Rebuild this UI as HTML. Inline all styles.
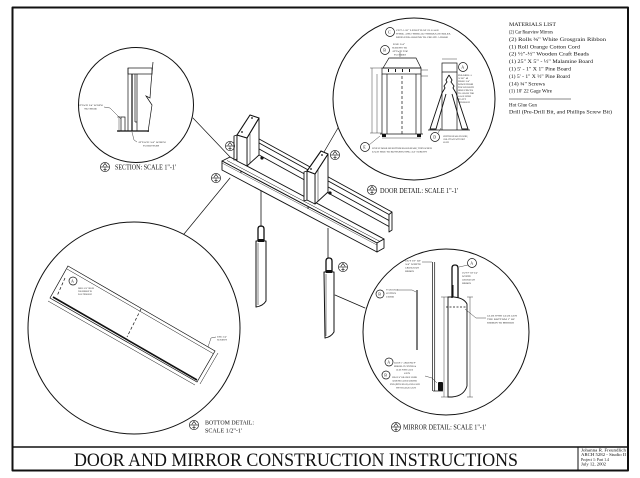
<!DOCTYPE html>
<html><head><meta charset="utf-8">
<style>
html,body{margin:0;padding:0;background:#fff;}
svg{display:block;}
text{font-family:"Liberation Serif",serif;fill:#111;}
.t{font-size:2.5px;fill:#222;}
</style></head><body>
<svg width="640" height="478" viewBox="0 0 640 478" xmlns="http://www.w3.org/2000/svg">
<defs>
<g id="sym" fill="none" stroke="#111" stroke-width="0.6"><circle r="4.6"/><line x1="-4.6" y1="0" x2="4.6" y2="0"/><path d="M-2.2,-0.6 L0,-3.6 L2.2,-0.6"/><line x1="0" y1="0.5" x2="0" y2="4"/><line x1="-1.6" y1="2.4" x2="1.6" y2="2.4"/></g>
</defs>
<rect width="640" height="478" fill="#fff"/>

<g fill="none" stroke="#111" stroke-linejoin="round" stroke-linecap="round">
 <rect x="12.5" y="7.5" width="615.5" height="463" stroke-width="2"/>
 <line x1="12.5" y1="447" x2="628" y2="447" stroke-width="1.6"/>
 <line x1="578" y1="447" x2="578" y2="470" stroke-width="1"/>
 <circle cx="136" cy="105" r="57.5" stroke-width="1"/>
 <circle cx="414" cy="99" r="81" stroke-width="1"/>
 <circle cx="134" cy="328" r="106" stroke-width="1"/>
 <circle cx="446" cy="332" r="83" stroke-width="1"/>
 <line x1="193" y1="118" x2="231" y2="158" stroke-width="0.7"/>
 <line x1="184" y1="234" x2="230" y2="178" stroke-width="0.7"/>
 <line x1="338" y1="128" x2="324" y2="152" stroke-width="0.7"/>
 <line x1="335" y1="295" x2="365" y2="308" stroke-width="0.7"/>
</g>

<!-- ASSEMBLY -->
<g fill="none" stroke="#111" stroke-width="0.9" stroke-linejoin="round">
 <!-- back rail -->
 <line x1="258" y1="138.4" x2="392" y2="212"/>
 <line x1="258" y1="142.4" x2="389" y2="214.5"/>
 <line x1="258" y1="148.4" x2="389" y2="220.5"/>
 <line x1="258" y1="154.4" x2="389" y2="226.5"/>
 <path d="M392,212 L392,230 L389,232 L389,214.5 Z" fill="#fff"/>
 <!-- front rail -->
 <polygon points="222,161 230,157 384,239 377,243" fill="#fff"/>
 <polygon points="222,161 377,243 377,252 222,170" fill="#fff"/>
 <polygon points="377,243 384,239 384,248 377,252" fill="#fff"/>
 <line x1="227" y1="160.5" x2="380" y2="241.5" stroke-width="0.5"/>
 <line x1="222" y1="163" x2="377" y2="245" stroke-width="0.4"/>
 <!-- left post -->
 <polygon points="234,136 237,135 237,159 234,160" fill="#fff"/>
 <polygon points="247,138 259,118 259,155 247,166" fill="#fff"/>
 <polygon points="237,135 247,138 247,166 237,161" fill="#fff"/>
 <polygon points="237,135 250,115 259,118 247,138" fill="#fff" stroke-width="1.1"/>
 <line x1="250" y1="134" x2="250" y2="163" stroke-width="0.5"/>
 <!-- right post -->
 <polygon points="304,172 307,171 307,200 304,201" fill="#fff"/>
 <polygon points="315,174 328,154 328,192 315,204" fill="#fff"/>
 <polygon points="307,171 315,174 315,204 307,200" fill="#fff"/>
 <polygon points="307,171 321,151 328,154 315,174" fill="#fff" stroke-width="1.1"/>
 <line x1="318" y1="170" x2="318" y2="201" stroke-width="0.5"/>
 <!-- wires -->
 <line x1="261" y1="191" x2="261" y2="227" stroke-width="0.8"/>
 <line x1="328" y1="228" x2="328" y2="258" stroke-width="0.8"/>
 <!-- left mirror -->
 <path d="M258,242 L258,229 Q258,226 261,226 Q264,226 264,229 L264,242" stroke-width="1.3"/>
 <path d="M256,241 L266,241 L266,301 Q263,306 256,307 Z" fill="#fff" stroke-width="1"/>
 <line x1="258" y1="243" x2="258" y2="305" stroke-width="0.5"/>
 <!-- right mirror -->
 <path d="M326,273 L326,261 Q326,258 329,258 Q332,258 332,261 L332,273" stroke-width="1.3"/>
 <path d="M324,272 L334,272 L334,332 Q331,337 325,338 Z" fill="#fff" stroke-width="1"/>
 <line x1="326" y1="274" x2="326" y2="336" stroke-width="0.5"/>
</g>
<g fill="#111">
 <circle cx="242" cy="132" r="0.9"/><circle cx="252" cy="118" r="0.9"/>
 <circle cx="311" cy="169" r="0.9"/><circle cx="322" cy="155" r="0.9"/>
 <circle cx="262" cy="158" r="1.6"/><circle cx="330" cy="193" r="1.6"/>
 <circle cx="241" cy="172" r="0.7"/><circle cx="308" cy="208" r="0.7"/>
 <rect x="258" y="239" width="6" height="3"/>
 <rect x="326" y="270" width="6" height="3"/>
</g>

<!-- symbols -->
<use href="#sym" x="230" y="146"/>
<use href="#sym" x="216" y="178"/>
<use href="#sym" x="335" y="155"/>
<use href="#sym" x="343" y="267"/>
<use href="#sym" x="105" y="167"/>
<use href="#sym" x="372" y="190"/>
<use href="#sym" x="194" y="425"/>
<use href="#sym" x="396" y="427"/>

<!-- SECTION DETAIL -->
<g fill="none" stroke="#111" stroke-width="0.7">
 <rect x="128" y="68" width="24" height="6"/>
 <line x1="128" y1="68" x2="128" y2="131"/>
 <line x1="132" y1="74" x2="132" y2="131" stroke-width="1.2"/>
 <line x1="135" y1="74" x2="135" y2="122"/>
 <line x1="137" y1="74" x2="137" y2="131"/>
 <line x1="135" y1="122" x2="137" y2="122"/>
 <line x1="117" y1="131" x2="149" y2="131" stroke-width="1.3"/>
 <rect x="121" y="117" width="4" height="14"/>
 <line x1="119" y1="116" x2="119" y2="132" stroke-width="0.4"/>
 <line x1="117" y1="117" x2="121" y2="117" stroke-width="0.4"/>
 <path d="M153,62 L151,84 L150,98 L146,96 L152,105 L148,132"/>
 <path d="M104,107 L110,108 L121,119" stroke-width="0.4"/>
 <path d="M132,132 L134,140 L137,142" stroke-width="0.4"/>
</g>
<text class="t" x="78" y="106" textLength="25" lengthAdjust="spacingAndGlyphs">ATTACH 3/4" SCREW</text>
<text class="t" x="84" y="109.5" textLength="13" lengthAdjust="spacingAndGlyphs">TO SIDE</text>
<text class="t" x="138" y="143" textLength="28" lengthAdjust="spacingAndGlyphs">ATTACH 3/4" SCREW</text>
<text class="t" x="143" y="146.5" textLength="16" lengthAdjust="spacingAndGlyphs">TO BOTTOM</text>

<!-- BOTTOM DETAIL -->
<g fill="none" stroke="#111" stroke-width="0.7">
 <polygon points="68,266 215,351 197,382 50,298" fill="#fff"/>
 <line x1="67" y1="269" x2="213" y2="353.5" stroke-width="0.5"/>
 <line x1="53" y1="297" x2="197" y2="380" stroke-width="1.6"/>
 <line x1="48" y1="301" x2="195" y2="385" stroke-width="0.5"/>
 <line x1="218" y1="353" x2="200" y2="384" stroke-width="0.5"/>
 <line x1="141" y1="309" x2="127" y2="337" stroke-dasharray="3,2"/>
 <line x1="65" y1="278" x2="57" y2="296" stroke-dasharray="3,2"/>
 <circle cx="73" cy="281" r="4"/>
 <path d="M216,337 L211,338 L208,347" stroke-width="0.4"/>
</g>
<text x="71" y="282.5" style="font-size:4px">A</text>
<text class="t" x="78" y="289" textLength="16" lengthAdjust="spacingAndGlyphs">DRILL 3/16" HOLES</text>
<text class="t" x="78" y="292" textLength="14" lengthAdjust="spacingAndGlyphs">FOR RIBBON TO</text>
<text class="t" x="78" y="295" textLength="14" lengthAdjust="spacingAndGlyphs">PASS THROUGH</text>
<text class="t" x="217" y="337.5" textLength="10" lengthAdjust="spacingAndGlyphs">USE 3/4"</text>
<text class="t" x="217" y="340.5" textLength="10" lengthAdjust="spacingAndGlyphs">SCREWS</text>

<!-- DOOR DETAIL -->
<g fill="none" stroke="#111" stroke-width="0.7">
 <polygon points="383,68 389,58 416,58 421,68"/>
 <rect x="382" y="68" width="39" height="6"/>
 <line x1="382" y1="74" x2="382" y2="134"/>
 <line x1="387" y1="74" x2="387" y2="134"/>
 <line x1="416" y1="74" x2="416" y2="134"/>
 <line x1="421" y1="74" x2="421" y2="134"/>
 <line x1="402" y1="76" x2="402" y2="134" stroke-dasharray="3,2"/>
 <line x1="380" y1="134" x2="423" y2="134"/>
 <line x1="372" y1="68" x2="372" y2="133" stroke-width="0.4"/>
 <line x1="377" y1="74" x2="377" y2="133" stroke-width="0.4"/>
 <line x1="370" y1="68" x2="382" y2="68" stroke-width="0.4"/>
 <line x1="370" y1="133" x2="382" y2="133" stroke-width="0.4"/>
 <line x1="382" y1="138" x2="421" y2="138" stroke-width="0.4"/>
 <line x1="421" y1="70" x2="428" y2="70" stroke-width="0.4"/>
 <line x1="421" y1="76" x2="428" y2="76" stroke-width="0.4"/>
 <circle cx="390" cy="32" r="4.5"/>
 <circle cx="385" cy="50" r="4.5"/>
 <line x1="400" y1="52" x2="400" y2="57" stroke-width="0.4"/>
 <!-- side view -->
 <rect x="442" y="63" width="15" height="9"/>
 <line x1="442" y1="59" x2="457" y2="59" stroke-width="0.4"/>
 <line x1="442" y1="72" x2="442" y2="130"/>
 <line x1="457" y1="72" x2="457" y2="130"/>
 <path d="M449,75 L446,80 L447,82 L444,86 L445,88 L442,93 L430,129 L436,129 L446,94" stroke-width="0.9"/>
 <path d="M449,75 L452,80 L451,82 L454,86 L453,88 L456,93 L468,129 L462,129 L452,94" stroke-width="0.9"/>
 <line x1="428" y1="130" x2="470" y2="130"/>
 <circle cx="463" cy="67" r="4.5"/>
 <circle cx="435" cy="137" r="4.5"/>
 <circle cx="365" cy="147" r="4.5"/>
 <line x1="438" y1="133" x2="441" y2="128" stroke-width="0.4"/>
 <line x1="369" y1="145" x2="380" y2="136" stroke-width="0.4"/>
</g>
<g fill="#111">
 <rect x="382" y="134" width="4" height="3"/><rect x="417" y="134" width="4" height="3"/>
 <rect x="388" y="69" width="1" height="3"/><rect x="395" y="69" width="1" height="3"/><rect x="402" y="69" width="1" height="3"/><rect x="409" y="69" width="1" height="3"/>
</g>
<text x="388" y="33.5" style="font-size:4px">C</text>
<text x="383.3" y="51.5" style="font-size:4px">B</text>
<text x="461.3" y="68.5" style="font-size:4px">A</text>
<text x="433.3" y="138.5" style="font-size:4px">D</text>
<text x="363.3" y="148.5" style="font-size:4px">E</text>
<text class="t" x="396" y="31" textLength="43" lengthAdjust="spacingAndGlyphs">CUT A 20" LENGTH OF 22 GAGE</text>
<text class="t" x="396" y="34.5" textLength="55" lengthAdjust="spacingAndGlyphs">WIRE, AND THREAD THROUGH HOLES,</text>
<text class="t" x="396" y="38" textLength="52" lengthAdjust="spacingAndGlyphs">BEND END AROUND TO CREATE A HOOK</text>
<text class="t" x="393" y="45" textLength="12" lengthAdjust="spacingAndGlyphs">USE 3/4"</text>
<text class="t" x="392" y="48.5" textLength="15" lengthAdjust="spacingAndGlyphs">SCREWS TO</text>
<text class="t" x="392" y="52" textLength="16" lengthAdjust="spacingAndGlyphs">ATTACH TOP</text>
<text class="t" x="394" y="55.5" textLength="12" lengthAdjust="spacingAndGlyphs">TO SIDES</text>
<text class="t" x="458" y="76" textLength="14" lengthAdjust="spacingAndGlyphs">PRE-DRILL A</text>
<text class="t" x="458" y="79" textLength="10" lengthAdjust="spacingAndGlyphs">3/16" Ø</text>
<text class="t" x="458" y="82" textLength="12" lengthAdjust="spacingAndGlyphs">HOLE 3/4"</text>
<text class="t" x="458" y="85" textLength="15" lengthAdjust="spacingAndGlyphs">DOWN FROM</text>
<text class="t" x="458" y="88" textLength="16" lengthAdjust="spacingAndGlyphs">TOP ON BOTH</text>
<text class="t" x="458" y="91" textLength="15" lengthAdjust="spacingAndGlyphs">SIDE PIECES</text>
<text class="t" x="458" y="94" textLength="16" lengthAdjust="spacingAndGlyphs">TO ALLOW FOR</text>
<text class="t" x="458" y="97" textLength="13" lengthAdjust="spacingAndGlyphs">GAGE WIRE</text>
<text class="t" x="458" y="100" textLength="8" lengthAdjust="spacingAndGlyphs">TO FIT</text>
<text class="t" x="458" y="103" textLength="12" lengthAdjust="spacingAndGlyphs">THROUGH</text>
<text class="t" x="443" y="137" textLength="25" lengthAdjust="spacingAndGlyphs">CENTER BEADS ON WIRE,</text>
<text class="t" x="443" y="140" textLength="22" lengthAdjust="spacingAndGlyphs">AND ATTACH WITH HOT</text>
<text class="t" x="443" y="143" textLength="6" lengthAdjust="spacingAndGlyphs">GLUE</text>
<text class="t" x="372" y="149" textLength="60" lengthAdjust="spacingAndGlyphs">LINE UP DOOR ON BOTTOM BOARD MARK, THEN SCREW</text>
<text class="t" x="372" y="152.5" textLength="55" lengthAdjust="spacingAndGlyphs">EACH SIDE TO BOTTOM USING 3/4" SCREWS</text>

<!-- MIRROR DETAIL -->
<g fill="none" stroke="#111" stroke-width="0.7">
 <line x1="432.5" y1="262" x2="432.5" y2="391"/>
 <line x1="434.7" y1="262" x2="434.7" y2="391"/>
 <line x1="433" y1="391" x2="443" y2="391"/>
 <path d="M422,262 L432,262" stroke-width="0.4"/>
 <line x1="417" y1="290" x2="417" y2="350" stroke-width="1.1"/>
 <path d="M397,290 L412,290 L416,292" stroke-width="0.4"/>
 <circle cx="380" cy="294" r="4"/>
 <path d="M452,298 L452,268 Q452,265 455,265 Q458,265 458,268 L458,298" stroke-width="1.3"/>
 <path d="M448,297 L454,297 Q464,298 467,304 L467,386 Q464,396 452,397 L448,397 Z" stroke-width="0.9"/>
 <line x1="444" y1="297" x2="444" y2="397" stroke-width="0.4"/>
 <line x1="470" y1="297" x2="470" y2="397" stroke-width="0.4"/>
 <line x1="441" y1="297" x2="448" y2="297" stroke-width="0.4"/>
 <line x1="441" y1="397" x2="448" y2="397" stroke-width="0.4"/>
 <line x1="467" y1="297" x2="473" y2="297" stroke-width="0.4"/>
 <line x1="467" y1="397" x2="473" y2="397" stroke-width="0.4"/>
 <line x1="446" y1="307" x2="467" y2="307" stroke-dasharray="2,1.5"/>
 <circle cx="472" cy="263" r="4.5"/>
 <path d="M468,265 L459,267" stroke-width="0.4"/>
 <path d="M465,309 L476,318 L486,318" stroke-width="0.4"/>
 <circle cx="389" cy="362" r="4"/>
 <circle cx="386" cy="375" r="4"/>
 <path d="M425,376 L432,378 L437,383" stroke-width="0.4"/>
</g>
<g fill="#111">
 <rect x="438" y="382" width="5" height="9" rx="1"/>
 <rect x="452" y="285" width="1.5" height="12"/>
</g>
<text x="378.2" y="295.5" style="font-size:4px">B</text>
<text x="470.3" y="264.5" style="font-size:4px">A</text>
<text x="387.2" y="363.5" style="font-size:4px">A</text>
<text x="384.2" y="376.5" style="font-size:4px">B</text>
<text class="t" x="405" y="261.5" textLength="16" lengthAdjust="spacingAndGlyphs">CUT 18" OF</text>
<text class="t" x="405" y="265" textLength="16" lengthAdjust="spacingAndGlyphs">3/4" WHITE</text>
<text class="t" x="405" y="268.5" textLength="14" lengthAdjust="spacingAndGlyphs">GROSGRAIN</text>
<text class="t" x="405" y="272" textLength="9" lengthAdjust="spacingAndGlyphs">RIBBON</text>
<text class="t" x="386" y="290.5" textLength="12" lengthAdjust="spacingAndGlyphs">#? ORANGE</text>
<text class="t" x="386" y="294" textLength="10" lengthAdjust="spacingAndGlyphs">COTTON</text>
<text class="t" x="386" y="297.5" textLength="8" lengthAdjust="spacingAndGlyphs">CORD</text>
<text class="t" x="462" y="273.5" textLength="16" lengthAdjust="spacingAndGlyphs">CUT 9" OF 3/4"</text>
<text class="t" x="462" y="277" textLength="9" lengthAdjust="spacingAndGlyphs">WHITE</text>
<text class="t" x="462" y="280.5" textLength="13" lengthAdjust="spacingAndGlyphs">GROSGRAIN</text>
<text class="t" x="462" y="284" textLength="9" lengthAdjust="spacingAndGlyphs">RIBBON</text>
<text class="t" x="487" y="316.5" textLength="30" lengthAdjust="spacingAndGlyphs">GLUE WITH GLUE GUN</text>
<text class="t" x="487" y="320" textLength="28" lengthAdjust="spacingAndGlyphs">THE BOTTOM 1" OF</text>
<text class="t" x="487" y="323.5" textLength="27" lengthAdjust="spacingAndGlyphs">RIBBON TO MIRROR</text>
<text class="t" x="394" y="363.5" textLength="22" lengthAdjust="spacingAndGlyphs">LOOP 5" AROUND 9"</text>
<text class="t" x="394" y="367" textLength="22" lengthAdjust="spacingAndGlyphs">RIBBON AT CENTER &amp;</text>
<text class="t" x="396" y="370.5" textLength="17" lengthAdjust="spacingAndGlyphs">GLUE WITH GLUE</text>
<text class="t" x="404" y="374" textLength="6" lengthAdjust="spacingAndGlyphs">GUN</text>
<text class="t" x="392" y="378" textLength="25" lengthAdjust="spacingAndGlyphs">WRAP 4" ORANGE CORD</text>
<text class="t" x="392" y="381.5" textLength="25" lengthAdjust="spacingAndGlyphs">AROUND GLUED LOOPED</text>
<text class="t" x="390" y="385" textLength="30" lengthAdjust="spacingAndGlyphs">END (INTO BEAD) AND GLUE</text>
<text class="t" x="396" y="388.5" textLength="20" lengthAdjust="spacingAndGlyphs">WITH GLUE GUN</text>

<!-- LABELS -->
<text x="115" y="169.5" style="font-size:7px" textLength="61" lengthAdjust="spacingAndGlyphs">SECTION: SCALE 1"-1'</text>
<text x="380" y="193" style="font-size:7px" textLength="78" lengthAdjust="spacingAndGlyphs">DOOR DETAIL: SCALE 1"-1'</text>
<text x="205" y="424.5" style="font-size:6.5px" textLength="49" lengthAdjust="spacingAndGlyphs">BOTTOM DETAIL:</text>
<text x="205" y="432.5" style="font-size:6.5px" textLength="37" lengthAdjust="spacingAndGlyphs">SCALE 1/2"-1'</text>
<text x="403" y="429.5" style="font-size:7px" textLength="83" lengthAdjust="spacingAndGlyphs">MIRROR DETAIL: SCALE 1"-1'</text>

<!-- MATERIALS LIST -->
<g style="font-size:5.2px">
<text x="509" y="26" textLength="47" lengthAdjust="spacingAndGlyphs">MATERIALS LIST</text>
<text x="509" y="33.5" textLength="44" lengthAdjust="spacingAndGlyphs">(2) Car Rearview Mirrors</text>
<text x="509" y="41" textLength="97" lengthAdjust="spacingAndGlyphs">(2) Rolls ¾" White Grosgrain Ribbon</text>
<text x="509" y="48.3" textLength="71" lengthAdjust="spacingAndGlyphs">(1) Roll Orange Cotton Cord</text>
<text x="509" y="55.7" textLength="80" lengthAdjust="spacingAndGlyphs">(2) ½"-½" Wooden Craft Beads</text>
<text x="509" y="63.2" textLength="84" lengthAdjust="spacingAndGlyphs">(1) 25" X 5" - ½" Malamine Board</text>
<text x="509" y="70.7" textLength="62" lengthAdjust="spacingAndGlyphs">(1) 5' - 1" X 1" Pine Board</text>
<text x="509" y="78.2" textLength="61" lengthAdjust="spacingAndGlyphs">(1) 5' - 1" X ½" Pine Board</text>
<text x="509" y="85.7" textLength="36" lengthAdjust="spacingAndGlyphs">(14) ¾" Screws</text>
<text x="509" y="92.7" textLength="43" lengthAdjust="spacingAndGlyphs">(1) 10' 22 Gage Wire</text>
<text x="509" y="106.3" textLength="28" lengthAdjust="spacingAndGlyphs">Hot Glue Gun</text>
<text x="509" y="113.3" textLength="103" lengthAdjust="spacingAndGlyphs">Drill (Pre-Drill Bit, and Phillips Screw Bit)</text>
</g>
<line x1="509" y1="99" x2="571" y2="99" stroke="#111" stroke-width="0.5"/>

<!-- TITLE -->
<text x="74" y="466" style="font-size:19px" textLength="444" lengthAdjust="spacingAndGlyphs">DOOR AND MIRROR CONSTRUCTION INSTRUCTIONS</text>
<g style="font-size:4.3px">
<text x="581" y="451.5" textLength="45" lengthAdjust="spacingAndGlyphs">Johanna R. Freundlich</text>
<text x="581" y="456.2" textLength="45" lengthAdjust="spacingAndGlyphs">ARCH 5282 - Studio II</text>
<text x="581" y="460.9" textLength="28" lengthAdjust="spacingAndGlyphs">Project 1: Part 1.4</text>
<text x="581" y="465.6" textLength="25" lengthAdjust="spacingAndGlyphs">July 12, 2002</text>
</g>
</svg>
</body></html>
